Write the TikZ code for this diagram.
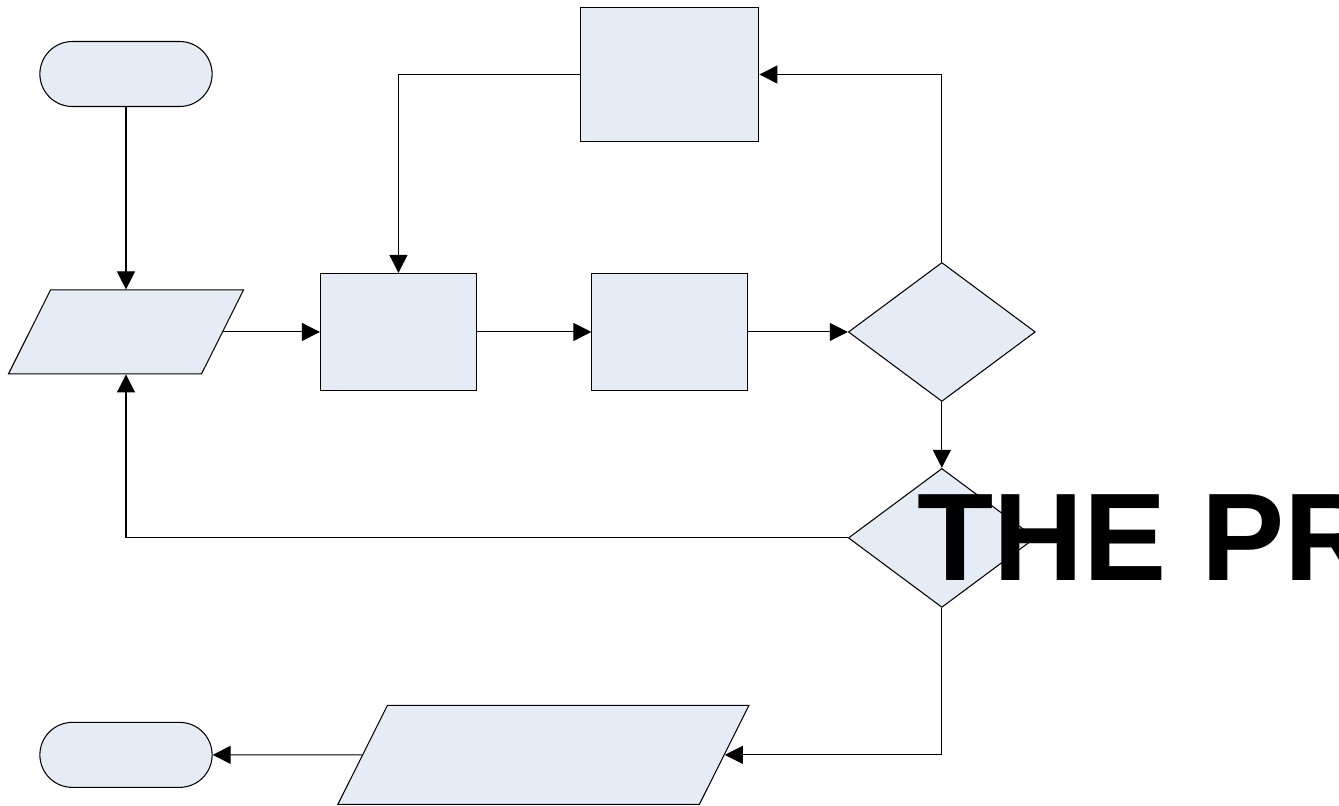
\documentclass[tikz,border=0pt]{standalone}
\usepackage{fontspec}
\newfontfamily\headfont{Liberation Sans}
\usetikzlibrary{shapes.geometric, shapes.misc, positioning, arrows.meta}
\definecolor{boxfill}{RGB}{230,236,246}

\begin{document}
\begin{tikzpicture}[x=0.02cm,y=-0.02cm,on grid,line width=0.6pt,
    term/.style={rounded rectangle,draw,fill=boxfill,minimum width=3.68cm,minimum height=1.3cm},
    io/.style={trapezium,trapezium left angle=63.4,trapezium right angle=116.6,
      draw,fill=boxfill,inner sep=0pt},
    proc/.style={rectangle,draw,fill=boxfill,minimum width=3.12cm,minimum height=2.34cm},
    decision/.style={diamond,draw,fill=boxfill,inner sep=0pt,minimum width=3.74cm,minimum height=2.78cm},
    title/.style={anchor=base west,inner sep=0pt,font=\headfont\bfseries\fontsize{71}{71}\selectfont},
    flow/.style={-{Triangle[length=0.36cm,width=0.36cm]}}]
    \path[use as bounding box,clip] (0,0) rectangle (1339,805);
    \node[term] (start) at (126,74) {};
    \node[io,inner xsep=1.51cm,inner ysep=0.84cm] (in1) [below=5.16cm of start] {};
    \node[proc] (p1) [right=5.45cm of in1] {};
    \node[proc] (p2) [right=5.43cm of p1] {};
    \node[decision] (d1) [right=5.44cm of p2] {};
    \node[proc,minimum width=3.56cm,minimum height=2.68cm] (redo) [above=5.15cm of p2] {};
    \node[decision] (d2) [below=4.12cm of d1] {};
    \node[term] (stop) [below=8.46cm of in1] {};
    \node[io,inner xsep=3.12cm,inner ysep=0.99cm] (out) [right=8.35cm of stop] {};
    \node[title] (head) at (917,580) {THE PR};
    \draw[flow] (start) -- (in1);
    \draw[flow] (in1) -- (p1);
    \draw[flow] (p1) -- (p2);
    \draw[flow] (p2) -- (d1);
    \draw[flow] (d1.north) |- (redo.east);
    \draw[flow] (redo.west) -| (p1.north);
    \draw[flow] (d1) -- (d2);
    \draw[flow] (d2.west) -| (in1.south);
    \draw[flow] (d2.south) |- (out.east);
    \draw[flow] (out) -- (stop);
\end{tikzpicture}
\end{document}
